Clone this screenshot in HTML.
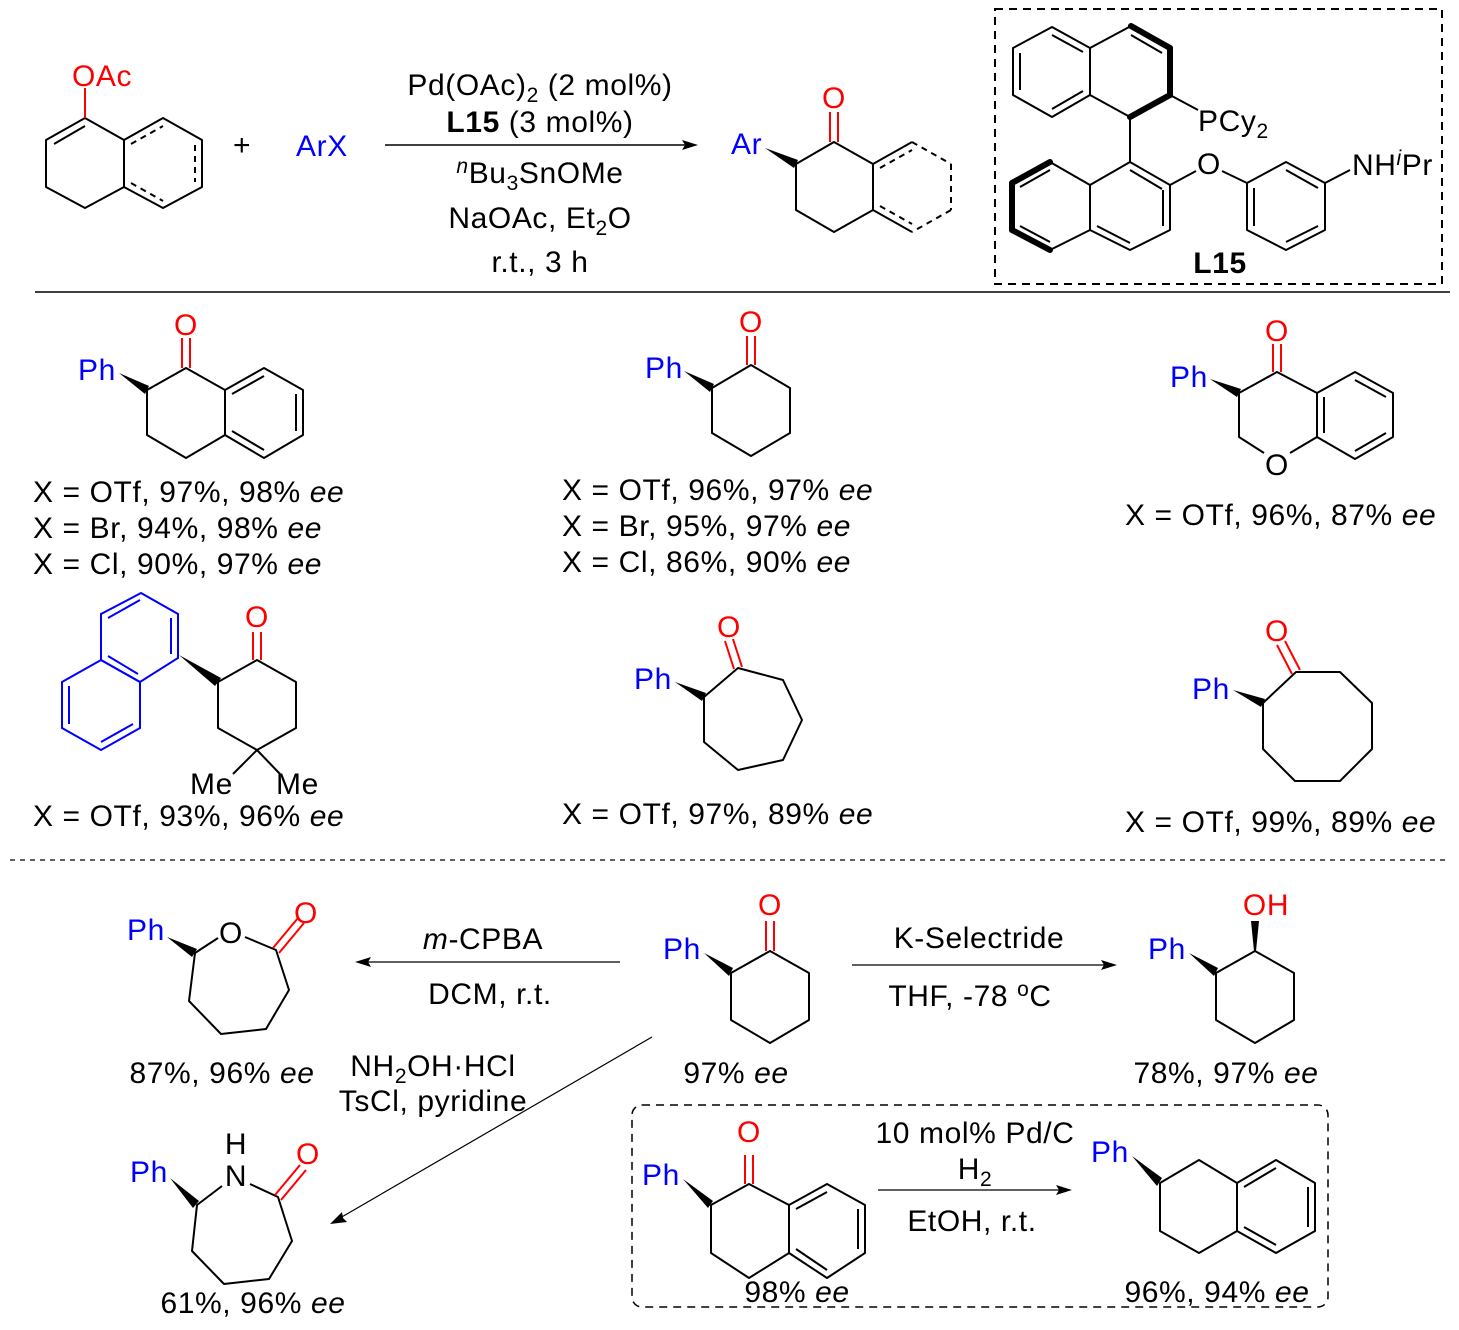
<!DOCTYPE html>
<html><head><meta charset="utf-8"><style>
html,body{margin:0;padding:0;background:#fff;}
svg{display:block;}
text{font-family:"Liberation Sans",Arial,sans-serif;font-size:30px;letter-spacing:0.6px;fill:#000;}
.b{fill:#0000ff}.r{fill:#ff0000}
.ln{stroke:#000;stroke-width:2;fill:none;stroke-linejoin:round}
.bl{stroke:#0000ff;stroke-width:2;fill:none}
.rd{stroke:#ff0000;stroke-width:2;fill:none}
.ds{stroke:#000;stroke-width:2;fill:none;stroke-dasharray:6,5}
.bold{stroke:#000;stroke-width:6;fill:none;stroke-linecap:round}
</style></head><body>
<svg width="1459" height="1330" viewBox="0 0 1459 1330" xmlns="http://www.w3.org/2000/svg">
<polygon class="ln" points="85,118 124,140 124,187 85,208 46,187 46,140"/>
<polyline class="ln" points="124,140 163,118 202,140 202,187 163,208 124,187"/>
<line class="ln" x1="54" y1="144" x2="85" y2="126"/>
<line class="ds" x1="131" y1="144" x2="163" y2="126"/>
<line class="ds" x1="195" y1="145" x2="195" y2="182"/>
<line class="ds" x1="131" y1="183" x2="163" y2="201"/>
<line class="rd" x1="85" y1="118" x2="85" y2="88"/>
<text x="72" y="86" class="r">OAc</text>
<text x="233" y="155">+</text>
<text x="296" y="156" class="b">ArX</text>
<line class="ln" x1="385" y1="145" x2="685" y2="145" style="stroke-width:1.5"/>
<polygon points="698,145 682,140 685,145 682,150" fill="#000"/>
<text x="540" y="95" text-anchor="middle">Pd(OAc)<tspan font-size="21" dy="7">2</tspan><tspan dy="-7"> (2 mol%)</tspan></text>
<text x="540" y="132" text-anchor="middle"><tspan font-weight="bold">L15</tspan> (3 mol%)</text>
<text x="540" y="183" text-anchor="middle"><tspan font-size="21" font-style="italic" dy="-10">n</tspan><tspan dy="10">Bu</tspan><tspan font-size="21" dy="7">3</tspan><tspan dy="-7">SnOMe</tspan></text>
<text x="540" y="228" text-anchor="middle">NaOAc, Et<tspan font-size="21" dy="7">2</tspan><tspan dy="-7">O</tspan></text>
<text x="540" y="272" text-anchor="middle">r.t., 3 h</text>
<polygon class="ln" points="834,142 873,164 873,210 834,232 796,210 796,164"/>
<line class="ln" x1="873" y1="164" x2="912" y2="142"/>
<line class="ln" x1="873" y1="210" x2="912" y2="232"/>
<line class="ds" x1="912" y1="142" x2="951" y2="164"/>
<line class="ds" x1="951" y1="164" x2="951" y2="210"/>
<line class="ds" x1="951" y1="210" x2="912" y2="232"/>
<line class="ds" x1="880" y1="168" x2="912" y2="150"/>
<line class="ds" x1="880" y1="206" x2="912" y2="224"/>
<line class="rd" x1="830" y1="142" x2="830" y2="112"/>
<line class="rd" x1="838" y1="142" x2="838" y2="112"/>
<text x="834" y="108" class="r" text-anchor="middle">O</text>
<text x="731" y="154" class="b">Ar</text>
<polygon points="765,148 798,160 794,168" fill="#000"/>
<rect x="995" y="9" width="447" height="275" fill="none" stroke="#000" stroke-width="2" stroke-dasharray="8,6"/>
<polygon class="ln" points="1052,27 1090,48 1090,95 1052,117 1013,95 1013,48"/>
<line class="ln" x1="1020" y1="53" x2="1020" y2="90"/>
<line class="ln" x1="1052" y1="35" x2="1083" y2="52"/>
<line class="ln" x1="1052" y1="109" x2="1083" y2="91"/>
<line class="ln" x1="1090" y1="48" x2="1131" y2="26"/>
<line class="bold" x1="1131" y1="26" x2="1170" y2="48"/>
<line class="bold" x1="1170" y1="48" x2="1170" y2="95"/>
<line class="bold" x1="1170" y1="95" x2="1130" y2="117"/>
<line class="ln" x1="1130" y1="117" x2="1090" y2="95"/>
<line class="ln" x1="1131" y1="35" x2="1162" y2="53"/>
<line class="ln" x1="1170" y1="95" x2="1198" y2="110"/>
<text x="1198" y="131">PCy<tspan font-size="21" dy="7">2</tspan></text>
<line class="ln" x1="1130" y1="117" x2="1130" y2="162"/>
<polygon class="ln" points="1130,162 1170,185 1170,230 1130,250 1090,230 1090,185"/>
<line class="ln" x1="1130" y1="170" x2="1162" y2="189"/>
<line class="ln" x1="1163" y1="190" x2="1163" y2="226"/>
<line class="ln" x1="1097" y1="226" x2="1130" y2="243"/>
<line class="ln" x1="1090" y1="185" x2="1050" y2="162"/>
<line class="bold" x1="1050" y1="162" x2="1012" y2="183"/>
<line class="bold" x1="1012" y1="183" x2="1012" y2="230"/>
<line class="bold" x1="1012" y1="230" x2="1050" y2="250"/>
<line class="ln" x1="1050" y1="250" x2="1090" y2="230"/>
<line class="ln" x1="1050" y1="170" x2="1020" y2="187"/>
<line class="ln" x1="1020" y1="226" x2="1050" y2="242"/>
<line class="ln" x1="1170" y1="185" x2="1196" y2="171"/>
<text x="1209" y="174" text-anchor="middle">O</text>
<line class="ln" x1="1222" y1="171" x2="1247" y2="183"/>
<polygon class="ln" points="1286,162 1325,183 1325,230 1286,250 1247,230 1247,183"/>
<line class="ln" x1="1286" y1="170" x2="1318" y2="188"/>
<line class="ln" x1="1254" y1="188" x2="1254" y2="226"/>
<line class="ln" x1="1286" y1="242" x2="1318" y2="226"/>
<line class="ln" x1="1325" y1="183" x2="1350" y2="170"/>
<text x="1352" y="175">NH<tspan font-size="21" font-style="italic" dy="-10">i</tspan><tspan dy="10">Pr</tspan></text>
<text x="1220" y="273" text-anchor="middle" font-weight="bold">L15</text>
<line x1="35" y1="292" x2="1450" y2="292" stroke="#000" stroke-width="1.5"/>

<polygon class="ln" points="186,368 225,390 225,435 186,458 147,435 147,390"/>
<polyline class="ln" points="225,390 264,368 303,390 303,435 264,458 225,435"/>
<line class="ln" x1="232" y1="394" x2="264" y2="376"/>
<line class="ln" x1="296" y1="394" x2="296" y2="431"/>
<line class="ln" x1="232" y1="431" x2="264" y2="450"/>
<line class="rd" x1="182" y1="368" x2="182" y2="338"/>
<line class="rd" x1="190" y1="368" x2="190" y2="338"/>
<text x="186" y="335" class="r" text-anchor="middle">O</text>
<text x="78" y="380" class="b">Ph</text>
<polygon points="119,373 149,386 145,394" fill="#000"/>
<text x="33" y="502">X = OTf, 97%, 98% <tspan font-style="italic">ee</tspan></text>
<text x="33" y="538">X = Br, 94%, 98% <tspan font-style="italic">ee</tspan></text>
<text x="33" y="574">X = Cl, 90%, 97% <tspan font-style="italic">ee</tspan></text>
<polygon class="ln" points="751,365 790,388 790,433 751,456 712,433 712,388"/>
<line class="rd" x1="747" y1="365" x2="747" y2="336"/>
<line class="rd" x1="755" y1="365" x2="755" y2="336"/>
<text x="751" y="332" class="r" text-anchor="middle">O</text>
<text x="645" y="378" class="b">Ph</text>
<polygon points="684,371 714,384 710,392" fill="#000"/>
<text x="562" y="500">X = OTf, 96%, 97% <tspan font-style="italic">ee</tspan></text>
<text x="562" y="536">X = Br, 95%, 97% <tspan font-style="italic">ee</tspan></text>
<text x="562" y="572">X = Cl, 86%, 90% <tspan font-style="italic">ee</tspan></text>
<polyline class="ln" points="1264,453 1239,437 1239,393 1277,372 1317,393"/>
<line class="ln" x1="1290" y1="453" x2="1317" y2="437"/>
<polygon class="ln" points="1317,393 1355,372 1393,393 1393,437 1355,459 1317,437"/>
<line class="ln" x1="1324" y1="397" x2="1324" y2="433"/>
<line class="ln" x1="1355" y1="380" x2="1386" y2="397"/>
<line class="ln" x1="1355" y1="451" x2="1386" y2="433"/>
<line class="rd" x1="1273" y1="372" x2="1273" y2="344"/>
<line class="rd" x1="1281" y1="372" x2="1281" y2="344"/>
<text x="1277" y="341" class="r" text-anchor="middle">O</text>
<text x="1277" y="475" text-anchor="middle">O</text>
<text x="1170" y="387" class="b">Ph</text>
<polygon points="1210,379 1241,389 1237,397" fill="#000"/>
<text x="1125" y="525">X = OTf, 96%, 87% <tspan font-style="italic">ee</tspan></text>

<polygon class="bl" points="141,593 178,614 178,658 140,682 101,660 101,614"/>
<polygon class="bl" points="101,660 140,682 140,728 101,750 62,728 62,682"/>
<line class="bl" x1="171" y1="618" x2="171" y2="654"/>
<line class="bl" x1="108" y1="618" x2="140" y2="600"/>
<line class="bl" x1="108" y1="656" x2="138" y2="674"/>
<line class="bl" x1="69" y1="686" x2="69" y2="724"/>
<line class="bl" x1="101" y1="742" x2="133" y2="724"/>
<polygon class="ln" points="257,660 296,682 296,728 257,750 218,728 218,682"/>
<polygon points="179,655 221,678 215,686" fill="#000"/>
<line class="rd" x1="253" y1="660" x2="253" y2="632"/>
<line class="rd" x1="261" y1="660" x2="261" y2="632"/>
<text x="257" y="627" class="r" text-anchor="middle">O</text>
<line class="ln" x1="257" y1="750" x2="233" y2="774"/>
<line class="ln" x1="257" y1="750" x2="280" y2="774"/>
<text x="190" y="794">Me</text>
<text x="276" y="794">Me</text>
<text x="33" y="826">X = OTf, 93%, 96% <tspan font-style="italic">ee</tspan></text>
<polygon class="ln" points="738,668 783,680 802,720 783,760 738,770 704,742 704,697"/>
<line class="rd" x1="734" y1="669" x2="725" y2="641"/>
<line class="rd" x1="742" y1="667" x2="733" y2="639"/>
<text x="729" y="637" class="r" text-anchor="middle">O</text>
<text x="634" y="689" class="b">Ph</text>
<polygon points="675,682 706,693 702,701" fill="#000"/>
<text x="562" y="824">X = OTf, 97%, 89% <tspan font-style="italic">ee</tspan></text>
<polygon class="ln" points="1296,672 1340,672 1372,703 1372,749 1340,781 1295,781 1263,749 1263,703"/>
<line class="rd" x1="1292" y1="674" x2="1277" y2="645"/>
<line class="rd" x1="1300" y1="670" x2="1285" y2="641"/>
<text x="1277" y="641" class="r" text-anchor="middle">O</text>
<text x="1192" y="699" class="b">Ph</text>
<polygon points="1233,690 1265,699 1261,707" fill="#000"/>
<text x="1125" y="832">X = OTf, 99%, 89% <tspan font-style="italic">ee</tspan></text>

<line x1="10" y1="860" x2="1450" y2="860" stroke="#000" stroke-width="1.2" stroke-dasharray="5,5"/>

<polyline class="ln" points="218,938 195,953 189,1001 221,1034 266,1029 289,990 276,950 245,937"/>
<line class="rd" x1="273" y1="948" x2="298" y2="918"/>
<line class="rd" x1="279" y1="953" x2="304" y2="923"/>
<text x="306" y="923" class="r" text-anchor="middle">O</text>
<text x="231" y="943" text-anchor="middle">O</text>
<text x="127" y="940" class="b">Ph</text>
<polygon points="167,937 197,949 192,957" fill="#000"/>
<text x="222" y="1083" text-anchor="middle">87%, 96% <tspan font-style="italic">ee</tspan></text>
<line class="ln" x1="365" y1="962" x2="620" y2="962" style="stroke-width:1.2"/>
<polygon points="355,962 371,957 368,962 371,967" fill="#000"/>
<text x="483" y="949" text-anchor="middle"><tspan font-style="italic">m</tspan>-CPBA</text>
<text x="490" y="1004" text-anchor="middle">DCM, r.t.</text>
<polyline class="ln" points="222,1186 197,1205 192,1251 224,1284 269,1279 292,1241 278,1197 250,1184"/>
<line class="rd" x1="275" y1="1195" x2="300" y2="1165"/>
<line class="rd" x1="281" y1="1200" x2="306" y2="1170"/>
<text x="308" y="1164" class="r" text-anchor="middle">O</text>
<text x="236" y="1186" text-anchor="middle">N</text>
<text x="236" y="1154" text-anchor="middle">H</text>
<text x="130" y="1182" class="b">Ph</text>
<polygon points="170,1178 199,1201 193,1208" fill="#000"/>
<text x="253" y="1313" text-anchor="middle">61%, 96% <tspan font-style="italic">ee</tspan></text>
<line x1="652" y1="1037" x2="340" y2="1218" stroke="#000" stroke-width="1.2"/>
<polygon points="330,1224 342,1212 343,1218 347,1222" fill="#000"/>
<text x="433" y="1076" text-anchor="middle">NH<tspan font-size="21" dy="7">2</tspan><tspan dy="-7">OH·HCl</tspan></text>
<text x="433" y="1111" text-anchor="middle">TsCl, pyridine</text>
<polygon class="ln" points="770,951 809,973 809,1020 770,1043 731,1020 731,973"/>
<line class="rd" x1="766" y1="951" x2="766" y2="921"/>
<line class="rd" x1="774" y1="951" x2="774" y2="921"/>
<text x="770" y="915" class="r" text-anchor="middle">O</text>
<text x="663" y="959" class="b">Ph</text>
<polygon points="704,953 733,968 729,976" fill="#000"/>
<text x="736" y="1083" text-anchor="middle">97% <tspan font-style="italic">ee</tspan></text>
<line class="ln" x1="852" y1="965" x2="1105" y2="965" style="stroke-width:1.2"/>
<polygon points="1117,965 1101,960 1104,965 1101,970" fill="#000"/>
<text x="979" y="948" text-anchor="middle">K-Selectride</text>
<text x="970" y="1006" text-anchor="middle">THF, -78 <tspan font-size="21" dy="-10">o</tspan><tspan dy="10">C</tspan></text>
<polygon class="ln" points="1255,951 1294,973 1294,1020 1255,1043 1216,1020 1216,973"/>
<polygon points="1251,921 1259,921 1256,951 1254,951" fill="#000"/>
<text x="1266" y="915" class="r" text-anchor="middle">OH</text>
<text x="1148" y="959" class="b">Ph</text>
<polygon points="1189,953 1218,968 1214,976" fill="#000"/>
<text x="1226" y="1083" text-anchor="middle">78%, 97% <tspan font-style="italic">ee</tspan></text>
<rect x="632" y="1105" width="696" height="202" rx="10" fill="none" stroke="#000" stroke-width="1.5" stroke-dasharray="8,6"/>
<polygon class="ln" points="749,1184 789,1205 789,1253 749,1278 711,1253 711,1205"/>
<polyline class="ln" points="789,1205 827,1184 865,1205 865,1253 827,1278 789,1253"/>
<line class="ln" x1="796" y1="1209" x2="827" y2="1192"/>
<line class="ln" x1="858" y1="1209" x2="858" y2="1249"/>
<line class="ln" x1="796" y1="1249" x2="827" y2="1270"/>
<line class="rd" x1="745" y1="1184" x2="745" y2="1155"/>
<line class="rd" x1="753" y1="1184" x2="753" y2="1155"/>
<text x="749" y="1142" class="r" text-anchor="middle">O</text>
<text x="642" y="1185" class="b">Ph</text>
<polygon points="683,1179 713,1201 708,1208" fill="#000"/>
<text x="797" y="1302" text-anchor="middle">98% <tspan font-style="italic">ee</tspan></text>
<line class="ln" x1="878" y1="1190" x2="1060" y2="1190" style="stroke-width:1.2"/>
<polygon points="1072,1190 1056,1185 1059,1190 1056,1195" fill="#000"/>
<text x="975" y="1143" text-anchor="middle">10 mol% Pd/C</text>
<text x="975" y="1179" text-anchor="middle">H<tspan font-size="21" dy="7">2</tspan></text>
<text x="972" y="1231" text-anchor="middle">EtOH, r.t.</text>
<polygon class="ln" points="1160,1183 1199,1160 1237,1183 1237,1231 1199,1253 1160,1231"/>
<polyline class="ln" points="1237,1183 1276,1160 1315,1183 1315,1231 1276,1253 1237,1231"/>
<line class="ln" x1="1244" y1="1187" x2="1276" y2="1168"/>
<line class="ln" x1="1308" y1="1187" x2="1308" y2="1227"/>
<line class="ln" x1="1244" y1="1227" x2="1276" y2="1245"/>
<text x="1091" y="1162" class="b">Ph</text>
<polygon points="1132,1156 1162,1178 1157,1186" fill="#000"/>
<text x="1217" y="1302" text-anchor="middle">96%, 94% <tspan font-style="italic">ee</tspan></text>
</svg>
</body></html>
